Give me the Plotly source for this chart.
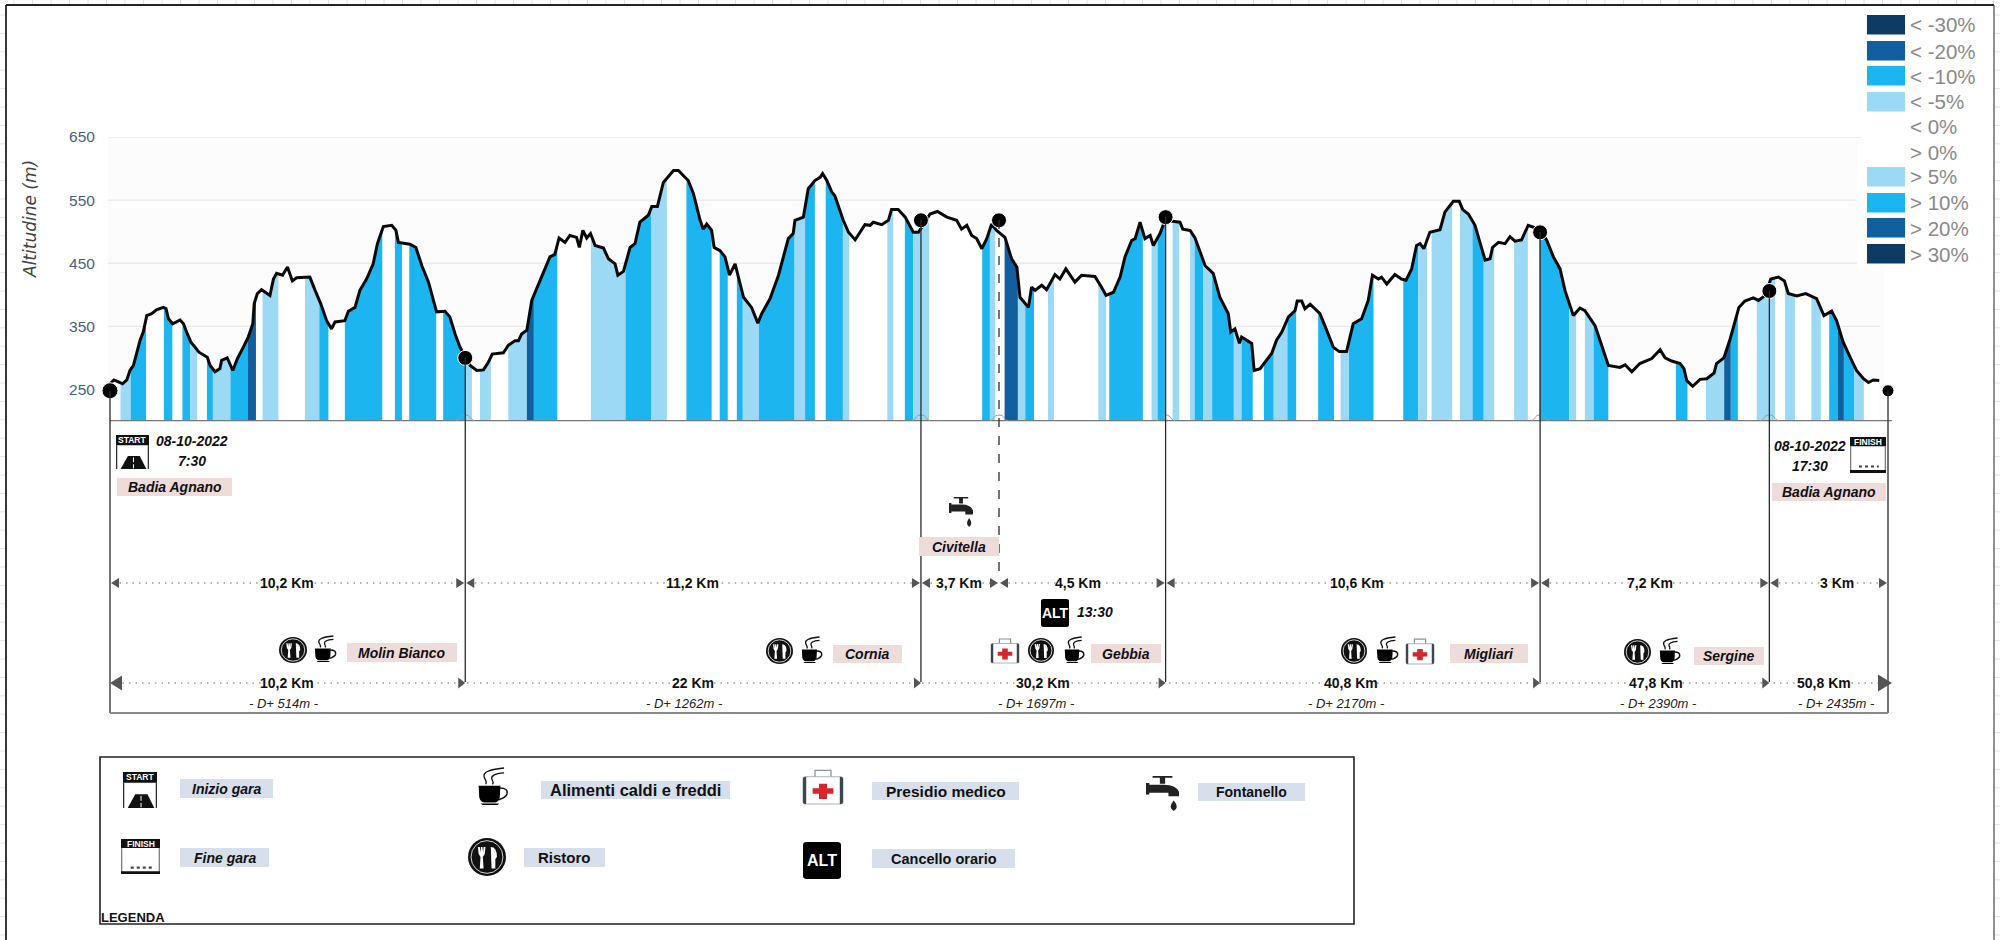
import re
import numpy as np
import plotly.graph_objects as go

W, H = 2000, 940

# ---------- data ----------
profile_km = [
 0.0,0.11,0.24,0.36,0.48,0.57,0.67,0.74,0.86,0.95,1.05,1.19,1.33,1.52,1.60,1.67,1.79,2.0,2.10,2.21,2.31,2.43,2.54,2.78,2.86,3.0,3.14,3.19,3.35,3.51,3.64,3.81,3.95,4.08,4.12,4.21,4.33,4.57,4.67,4.76,4.93,5.07,5.21,5.33,5.71,5.86,6.02,6.19,6.33,6.43,6.71,6.81,7.0,7.14,7.33,7.52,7.64,7.81,8.05,8.17,8.24,8.57,8.74,8.91,9.10,9.33,9.57,9.71,9.86,10.0,
 10.29,10.48,10.67,10.81,10.92,11.24,11.38,11.57,11.67,11.76,11.91,12.05,12.24,12.38,12.57,12.71,12.83,13.0,13.14,13.33,13.41,13.51,13.62,13.73,13.86,14.10,14.24,14.43,14.51,14.67,14.86,15.0,15.14,15.38,15.48,15.64,15.81,16.10,16.24,16.52,16.67,16.86,16.95,17.05,17.19,17.26,17.43,17.57,17.70,17.86,17.95,18.10,18.33,18.51,18.62,18.86,19.10,19.38,19.52,19.57,19.81,19.95,20.14,20.29,
 20.36,20.48,20.62,20.71,20.95,21.10,21.29,21.43,21.57,21.72,21.81,22.05,22.24,22.33,22.52,22.72,22.95,23.10,23.43,23.64,23.91,24.19,24.33,24.48,24.62,24.76,24.91,25.05,25.19,25.33,25.57,25.76,25.91,26.0,26.24,26.33,26.43,26.62,26.76,27.0,27.14,27.31,27.57,27.76,28.14,28.33,28.46,28.67,28.86,29.0,29.19,29.29,29.43,29.57,29.72,29.81,30.0,30.14,30.57,
 30.65,30.86,31.0,31.14,31.29,31.52,31.71,31.95,32.02,32.14,32.27,32.33,32.52,32.62,32.69,32.86,33.19,33.33,33.48,33.67,33.86,33.92,34.05,34.14,34.29,34.57,34.76,34.95,35.12,35.33,35.52,35.76,35.95,36.07,36.24,36.33,36.48,36.71,36.90,37.03,37.19,37.33,37.43,37.54,37.71,38.0,38.14,38.38,38.55,38.65,38.81,39.0,39.14,39.29,39.43,39.50,39.67,39.86,40.0,40.14,40.33,40.52,40.67,40.86,
 41.05,41.24,41.43,41.57,41.81,42.0,42.14,42.43,42.57,42.81,43.14,43.29,43.48,43.71,44.05,44.29,44.43,44.62,44.86,44.97,45.05,45.22,45.43,45.62,45.83,45.90,46.11,46.29,46.54,46.71,46.95,47.10,47.29,47.45,47.67,47.84,47.95,48.19,48.45,48.76,48.97,49.19,49.33,49.52,49.76,49.90,50.10,50.24,50.38,50.55]
profile_alt = [
 259,265,262,259,265,280,288,304,328,341,367,370,376,380,378,362,354,360,354,338,325,317,309,301,288,278,283,296,300,280,299,317,333,354,386,402,408,399,425,434,431,444,422,427,428,407,386,359,346,357,359,374,380,407,425,449,481,508,510,502,483,480,475,446,420,373,374,365,338,317,
 288,280,281,293,306,308,320,327,327,338,344,391,417,436,460,464,490,483,494,491,475,502,490,497,478,474,457,449,431,437,475,481,515,526,540,540,578,597,597,581,560,518,504,512,502,475,470,460,431,449,428,396,380,355,370,394,431,489,497,518,523,568,581,586,
 592,581,563,557,518,499,487,499,511,510,515,511,518,535,535,523,499,499,528,532,523,518,504,510,494,489,473,489,512,502,491,457,444,396,380,412,407,415,408,432,425,441,420,431,429,412,399,404,428,460,486,489,515,489,494,478,497,518,515,
 504,502,490,470,446,434,396,370,341,346,323,333,327,323,280,283,307,328,341,365,375,390,390,378,385,370,344,317,310,310,354,362,391,431,425,428,417,432,425,423,441,478,481,473,499,503,531,548,548,535,528,510,483,455,457,475,483,481,492,485,487,510,507,504,
 486,460,441,407,367,379,375,351,328,288,285,289,278,291,299,313,300,295,291,283,264,255,266,267,276,291,300,330,380,390,395,391,399,425,428,422,402,398,402,394,367,374,359,325,296,280,267,261,265,264]

band_start = [0.30,0.59,1.54,2.07,2.29,2.77,2.94,3.44,3.93,4.36,5.57,5.98,6.71,8.14,8.55,9.52,10.16,10.57,11.38,11.91,12.11,13.74,14.73,15.47,16.47,17.42,17.91,18.08,18.54,19.56,19.86,
 20.45,20.94,22.21,22.71,22.95,24.92,25.14,25.56,25.94,26.15,26.80,28.24,28.55,29.76,29.93,30.36,30.86,30.99,31.24,31.49,32.11,32.33,32.97,33.25,33.64,34.52,35.16,35.40,36.95,37.38,37.76,38.57,38.93,39.25,40.12,40.84,41.69,42.14,42.39,44.74,45.60,46.12,46.31,47.05,47.86,48.61,49.12,49.37,49.54,49.83]
band_end = [0.59,1.03,1.78,2.29,2.49,2.94,3.44,3.93,4.17,4.81,5.98,6.24,7.78,8.34,9.32,10.16,10.34,10.88,11.91,12.11,12.78,14.73,15.47,15.91,17.19,17.65,18.08,18.54,19.56,19.86,20.14,
 20.94,21.12,22.38,22.95,23.40,25.14,25.29,25.94,26.15,26.40,26.97,28.46,29.51,29.93,30.14,30.55,30.99,31.24,31.49,32.11,32.33,32.65,33.25,33.64,33.89,34.97,35.40,36.10,37.38,37.63,38.35,38.93,39.25,39.55,40.51,41.69,41.89,42.39,42.81,45.07,46.12,46.31,46.51,47.57,48.14,48.88,49.37,49.54,49.83,50.11]
band_class = ["5","10","10","10","5","10","5","10","20","5","5","10","10","10","10","10","5","5","5","20","10","5","10","5","10","10","10","5","10","5","10",
 "10","5","5","10","5","10","5","20","5","10","5","5","10","5","10","5","5","10","5","10","5","10","10","5","10","10","5","10","10","5","5","5","10","5","5","10","5","5","10","10","5","20","10","5","5","5","10","20","10","5"]
class_color = {"5": "#9BD9F4", "10": "#1DB5F0", "20": "#115F9E", "30": "#0E3B63"}

check_km = [0.0, 10.15, 23.17, 25.4, 30.16, 40.86, 47.41, 50.8]
check_alt = [248, 300, 518, 518, 523, 499, 406, 248]
check_size = [16, 15, 15, 15, 15, 15, 15, 12]

y_ticks = [250, 350, 450, 550, 650]
grid_vals = [650, 550, 450, 350]
grid_ends = [1861, 1857, 1857, 1880]

legend_labels = ["< -30%", "< -20%", "< -10%", "< -5%", "< 0%", "> 0%", "> 5%", "> 10%", "> 20%", "> 30%"]
legend_classes = ["30", "20", "10", "5", None, None, "5", "10", "20", "30"]

seg_labels = ["10,2 Km", "11,2 Km", "3,7 Km", "4,5 Km", "10,6 Km", "7,2 Km", "3 Km"]
cum_labels = ["10,2 Km", "22 Km", "30,2 Km", "40,8 Km", "47,8 Km", "50,8 Km"]
dplus_labels = ["- D+ 514m -", "- D+ 1262m -", "- D+ 1697m -", "- D+ 2170m -", "- D+ 2390m -", "- D+ 2435m -"]

# ---------- layout helpers ----------
PINK = "#EEDCDB"
BLUEBOX = "#D6DFEB"
NARROW = "Liberation Sans, Arial, sans-serif"
PX_PER_KM = 35.0
X0PX = 110.0

def fx(x): return x / W
def fy(y): return 1 - y / H
def km_px(k): return X0PX + k * PX_PER_KM
def alt_py(a): return 421 - (a - 200) * 0.632

shapes, annos = [], []

def rect(x0, y0, x1, y1, fill, line=None, lw=0, layer="above"):
    shapes.append(dict(type="rect", xref="paper", yref="paper", x0=fx(x0), x1=fx(x1), y0=fy(y1), y1=fy(y0),
                       fillcolor=fill, line=dict(color=line or "rgba(0,0,0,0)", width=lw), layer=layer))

def seg(x0, y0, x1, y1, color="#333", w=1.3, dash="solid", layer="above"):
    shapes.append(dict(type="line", xref="paper", yref="paper", x0=fx(x0), x1=fx(x1), y0=fy(y0), y1=fy(y1),
                       line=dict(color=color, width=w, dash=dash), layer=layer))

def text(x, y, s, size=14, color="#111", font=NARROW, anchor="center", angle=0):
    annos.append(dict(xref="paper", yref="paper", x=fx(x), y=fy(y), text=s, showarrow=False, xanchor=anchor,
                      yanchor="middle", textangle=angle, font=dict(size=size, color=color, family=font), borderpad=0))

def path_px(d, x0=0, y0=0, x1=1, y1=1, fill="#000", line=None, lw=0):
    toks = re.findall(r"[MLCQZ]|-?\d*\.?\d+", d)
    out, i = [], 0
    for t in toks:
        if t in "MLCQZ":
            out.append(t)
        else:
            v = float(t)
            if i % 2 == 0:
                out.append(f"{fx(x0 + v * (x1 - x0)):.5f}")
            else:
                out.append(f"{fy(y0 + v * (y1 - y0)):.5f}")
            i += 1
    shapes.append(dict(type="path", xref="paper", yref="paper", path=" ".join(out), fillcolor=fill,
                       line=dict(color=line or "rgba(0,0,0,0)", width=lw), layer="above"))

def ellipse(x0, y0, x1, y1, fill, line=None, lw=0):
    shapes.append(dict(type="circle", xref="paper", yref="paper", x0=fx(x0), x1=fx(x1), y0=fy(y1), y1=fy(y0),
                       fillcolor=fill, line=dict(color=line or "rgba(0,0,0,0)", width=lw), layer="above"))

NOFILL = "rgba(0,0,0,0)"

def coffee(x0, y0, x1, y1):
    b = (x0, y0, x1, y1)
    path_px("M .85 0 C .35 .05 .2 .12 .25 .25 C .27 .32 .35 .36 .3 .44", *b, fill=NOFILL, line="#111", lw=1.3)
    path_px("M .85 .13 C .55 .15 .45 .22 .48 .3 C .5 .36 .55 .38 .5 .44", *b, fill=NOFILL, line="#111", lw=1.3)
    path_px("M .08 .48 L .74 .48 L .72 .8 Q .68 .93 .58 .93 L .24 .93 Q .14 .93 .1 .8 Z", *b)
    path_px("M .72 .54 Q .98 .54 .94 .7 Q .9 .8 .68 .86", *b, fill=NOFILL, line="#111", lw=1.5)
    path_px("M .14 .96 L .7 .96 L .65 1 L .2 1 Z", *b)

def ristoro(x0, y0, x1, y1):
    b = (x0, y0, x1, y1)
    ellipse(x0, y0, x1, y1, "#111")
    ellipse(x0 + .08 * (x1 - x0), y0 + .07 * (y1 - y0), x1 - .08 * (x1 - x0), y1 - .07 * (y1 - y0), NOFILL, "#fff", 0.8)
    path_px("M .26 .24 L .28 .42 L .33 .5 L .31 .8 L .41 .8 L .39 .5 L .44 .42 L .46 .24 L .41 .24 L .40 .38 L .38 .24 L .34 .24 L .33 .38 L .31 .24 Z", *b, fill="#fff")
    path_px("M .6 .24 Q .76 .24 .76 .5 L .72 .55 L .72 .8 L .62 .8 Z", *b, fill="#fff")

def med(x0, y0, x1, y1):
    b = (x0, y0, x1, y1)
    path_px("M .3 .25 L .3 .04 L .7 .04 L .7 .25", *b, fill=NOFILL, line="#8a929a", lw=1.2)
    path_px("M .05 .22 L .95 .22 Q 1 .22 1 .27 L 1 .95 Q 1 1 .95 1 L .05 1 Q 0 1 0 .95 L 0 .27 Q 0 .22 .05 .22 Z", *b, fill="#fff", line="#9aa1a8", lw=0.8)
    path_px("M 0 .27 Q 0 .22 .08 .22 L .08 1 Q 0 1 0 .95 Z", *b, fill="#3d4650")
    path_px("M 1 .27 Q 1 .22 .92 .22 L .92 1 Q 1 1 1 .95 Z", *b, fill="#3d4650")
    path_px("M .4 .42 L .6 .42 L .6 .55 L .76 .55 L .76 .71 L .6 .71 L .6 .86 L .4 .86 L .4 .71 L .24 .71 L .24 .55 L .4 .55 Z", *b, fill="#D8252B")

def tap(x0, y0, x1, y1):
    b = (x0, y0, x1, y1)
    path_px("M .2 0 L .8 0 L .8 .05 L .58 .05 L .58 .22 L .42 .22 L .42 .05 L .2 .05 Z", *b, fill="#222")
    path_px("M 0 .2 L .1 .2 L .1 .25 L .55 .25 Q .9 .25 1 .45 L 1 .58 L .68 .58 L .68 .48 L .1 .48 L .1 .53 L 0 .53 Z", *b, fill="#222")
    path_px("M .84 .7 Q 1.02 .9 .84 1 Q .66 .9 .84 .7 Z", *b, fill="#222")

def alt_icon(x0, y0, x1, y1, size=14):
    b = (x0, y0, x1, y1)
    path_px("M .1 0 L .9 0 Q 1 0 1 .08 L 1 .92 Q 1 1 .9 1 L .1 1 Q 0 1 0 .92 L 0 .08 Q 0 0 .1 0 Z", *b, fill="#000")
    text((x0 + x1) / 2, (y0 + y1) / 2, "<b>ALT</b>", size=size, color="#fff")

def start_icon(x0, y0, x1, y1):
    b = (x0, y0, x1, y1)
    path_px("M 0 0 L 1 0 L 1 .3 L 0 .3 Z", *b, fill="#111")
    path_px("M .02 .3 L .02 1", *b, fill=NOFILL, line="#222", lw=1.2)
    path_px("M .98 .3 L .98 1", *b, fill=NOFILL, line="#222", lw=1.2)
    path_px("M .36 .62 L .72 .62 L .92 1 L .14 1 Z", *b, fill="#111")
    path_px("M .53 .66 L .53 .8 M .53 .86 L .53 .98", *b, fill=NOFILL, line="#fff", lw=1)
    text((x0 + x1) / 2, y0 + .15 * (y1 - y0), "<b>START</b>", size=8.5, color="#fff")

def finish_icon(x0, y0, x1, y1):
    b = (x0, y0, x1, y1)
    path_px("M 0 0 L 1 0 L 1 .26 L 0 .26 Z", *b, fill="#111")
    path_px("M .02 .26 L .02 .95", *b, fill=NOFILL, line="#555", lw=1)
    path_px("M .98 .26 L .98 .95", *b, fill=NOFILL, line="#555", lw=1)
    path_px("M .25 .82 L .8 .82", *b, fill=NOFILL, line="#444", lw=2.2)
    shapes[-1]["line"]["dash"] = "dot"
    path_px("M 0 .92 L 1 .92 L 1 1 L 0 1 Z", *b, fill="#111")
    text((x0 + x1) / 2, y0 + .13 * (y1 - y0), "<b>FINISH</b>", size=8.5, color="#fff")

def label_box(x0, y0, x1, y1, s, fill=PINK, size=14):
    rect(x0, y0, x1, y1, fill)
    text((x0 + x1) / 2, (y0 + y1) / 2, s, size=size)

def tri(xtip, y, direction, w=8, h=10, color="#555"):
    xb = xtip - direction * w
    path_px(f"M {xtip} {y} L {xb} {y - h / 2} L {xb} {y + h / 2} Z", fill=color)

DOTS = "1.5px,5px"

# ---------- page frame ----------
seg(6, 5, 1994, 5, "#222", 1.8)
seg(6, 5, 6, 940, "#222", 1.8)
seg(1994, 5, 1994, 940, "#555", 1.3)
tick_path = []
for tx in np.arange(14.0, 2000, 18.5):
    tick_path.append(f"M {fx(tx):.5f} {fy(0):.5f} L {fx(tx):.5f} {fy(4):.5f}")
for ty in np.arange(15.0, 940, 18.4):
    tick_path.append(f"M {fx(0):.5f} {fy(ty):.5f} L {fx(5):.5f} {fy(ty):.5f}")
    tick_path.append(f"M {fx(1995):.5f} {fy(ty):.5f} L {fx(2000):.5f} {fy(ty):.5f}")
shapes.append(dict(type="path", xref="paper", yref="paper", path=" ".join(tick_path), line=dict(color="#e2e2e2", width=1), layer="above"))

# ---------- plot background and gridlines ----------
rect(108, 137, 1884, 421, "#FCFCFC", layer="below")
rect(1857, 120, 1892, 270, "#FFFFFF", layer="below")
for g, e in zip(grid_vals, grid_ends):
    shapes.append(dict(type="line", xref="paper", yref="y", x0=fx(108), x1=fx(e), y0=g, y1=g,
                       line=dict(color="#E9E9E9", width=1.4), layer="below"))

# ---------- gradient legend ----------
leg_y = [25, 51, 76, 102, 127, 152, 177, 203, 228, 254]
for lab, cl, ly in zip(legend_labels, legend_classes, leg_y):
    if cl:
        rect(1867, ly - 10, 1905, ly + 9.5, class_color[cl])
    text(1909, ly, lab, size=20.5, color="#8a8a8a", font="Liberation Sans, Arial, sans-serif", anchor="left")

# ---------- y-axis title ----------
text(30, 219, "<i>Altitudine (m)</i>", size=17, color="#444", font="DejaVu Sans, sans-serif", angle=-90)

# ---------- baseline with arches ----------
seg(110, 420.7, 1892, 420.7, "#777", 1.2)
for k in check_km[1:7]:
    p = km_px(k)
    path_px(f"M {p - 9} 420.5 C {p - 5} 420.5 {p - 6} 415 {p} 415 C {p + 6} 415 {p + 5} 420.5 {p + 9} 420.5", fill=NOFILL, line="#999", lw=1)

# ---------- checkpoint verticals ----------
bottoms = [713, 682, 682, 580, 682, 682, 682, 713]
for k, a, b, d in zip(check_km, check_alt, bottoms, ["solid"] * 3 + ["dash"] + ["solid"] * 4):
    seg(km_px(k), alt_py(a), km_px(k), b, "#2b2b2b", 1.3, d)
seg(110, 713, 1888, 713, "#8a8a8a", 1.8)

# ---------- distance rows ----------
px_checks = [km_px(k) for k in check_km]
seg_centres = [287, 692, 959, 1078, 1357, 1650, 1837]
for i, (lab, cx) in enumerate(zip(seg_labels, seg_centres)):
    a, b = px_checks[i], px_checks[i + 1]
    seg(a + 3, 583, b - 3, 583, "#666", 1, DOTS)
    tri(a + 1, 583, -1)
    tri(b - 1, 583, 1)
    rect(cx - len(lab) * 3.6, 575, cx + len(lab) * 3.6, 591, "#fff")
    text(cx, 583, f"<b>{lab}</b>", size=14)

cum_stops = [px_checks[1], px_checks[2], px_checks[4], px_checks[5], px_checks[6], px_checks[7]]
cum_centres = [287, 693, 1043, 1351, 1656, 1824]
dplus_centres = [284, 684, 1036, 1346, 1658, 1836]
seg(116, 683, 1884, 683, "#666", 1, DOTS)
tri(110, 683, -1, 12, 15)
for s in cum_stops[:-1]:
    tri(s, 683, 1, 7, 11)
tri(1892, 683, 1, 14, 17)
for lab, cx in zip(cum_labels, cum_centres):
    rect(cx - len(lab) * 3.6, 675, cx + len(lab) * 3.6, 691, "#fff")
    text(cx, 683, f"<b>{lab}</b>", size=14)
for lab, cx in zip(dplus_labels, dplus_centres):
    text(cx, 703, f"<i>{lab}</i>", size=13, color="#222")

# ---------- place labels ----------
label_box(117, 478, 232, 496, "<b><i>Badia Agnano</i></b>")
label_box(919, 537, 999, 556, "<b><i>Civitella</i></b>")
label_box(347, 643, 457, 662, "<b><i>Molin Bianco</i></b>")
label_box(833, 645, 902, 663, "<b><i>Cornia</i></b>")
label_box(1091, 644, 1161, 663, "<b><i>Gebbia</i></b>")
label_box(1450, 644, 1528, 663, "<b><i>Migliari</i></b>")
label_box(1694, 647, 1764, 665, "<b><i>Sergine</i></b>")
label_box(1772, 483, 1886, 501, "<b><i>Badia Agnano</i></b>")

text(192, 441, "<b><i>08-10-2022</i></b>", size=14)
text(192, 461, "<b><i>7:30</i></b>", size=14)
text(1810, 446, "<b><i>08-10-2022</i></b>", size=14)
text(1810, 466, "<b><i>17:30</i></b>", size=14)
text(1095, 612, "<b><i>13:30</i></b>", size=14)

# ---------- icons along the course ----------
start_icon(116, 435, 149, 469)
finish_icon(1850, 437, 1886, 473)
tap(949, 497, 973, 527)
alt_icon(1041, 599, 1069, 627)
ristoro(279, 637, 307, 663); coffee(313, 636, 337, 662)
ristoro(766, 638, 793, 664); coffee(800, 637, 823, 663)
med(991, 638, 1019, 663); ristoro(1028, 638, 1054, 663); coffee(1063, 637, 1085, 663)
ristoro(1341, 638, 1367, 664); coffee(1375, 637, 1399, 663); med(1406, 638, 1434, 664)
ristoro(1624, 639, 1651, 665); coffee(1658, 638, 1681, 664)

# ---------- symbol key ----------
rect(100, 757, 1354, 924, "rgba(0,0,0,0)", "#222", 1.6)
start_icon(123, 772, 157, 808)
label_box(180, 779, 273, 798, "<b><i>Inizio gara</i></b>", BLUEBOX)
coffee(476, 768, 509, 805)
label_box(541, 781, 730, 799, "<b>Alimenti caldi e freddi</b>", BLUEBOX, 16.5)
med(803, 769, 843, 804)
label_box(872, 782, 1019, 800, "<b>Presidio medico</b>", BLUEBOX, 15.5)
tap(1146, 776, 1179, 811)
label_box(1198, 783, 1305, 801, "<b>Fontanello</b>", BLUEBOX)
finish_icon(121, 839, 160, 874)
label_box(180, 848, 269, 867, "<b><i>Fine gara</i></b>", BLUEBOX)
ristoro(468, 838, 506, 876)
label_box(524, 848, 605, 867, "<b>Ristoro</b>", BLUEBOX, 15)
alt_icon(803, 842, 841, 879, size=16)
label_box(872, 849, 1015, 868, "<b>Cancello orario</b>", BLUEBOX, 14.5)
text(100, 917, "<b>LEGENDA</b>", size=13, anchor="left")

# ---------- traces ----------
fig = go.Figure()
pk = np.array(profile_km, float)
pa = np.array(profile_alt, float)

fig.add_trace(go.Scatter(x=pk, y=pa, mode="none", fill="tozeroy", fillcolor="#FFFFFF", hoverinfo="skip", showlegend=False))
for s, e, c in zip(band_start, band_end, band_class):
    inner = pk[(pk > s) & (pk < e)]
    xs = np.concatenate([[s], inner, [e]])
    fig.add_trace(go.Scatter(x=xs, y=np.interp(xs, pk, pa), mode="none", fill="tozeroy",
                             fillcolor=class_color[c], hoverinfo="skip", showlegend=False))
fig.add_trace(go.Scatter(x=pk, y=pa, mode="lines", line=dict(color="#0a0a0a", width=3), name="Altitudine", showlegend=False))
fig.add_trace(go.Scatter(x=check_km, y=check_alt, mode="markers", cliponaxis=False,
                         marker=dict(color="#000", size=check_size, opacity=1), showlegend=False))

fig.update_layout(
    width=W, height=H, margin=dict(l=0, r=0, t=0, b=0), autosize=False,
    paper_bgcolor="#FFFFFF", plot_bgcolor="rgba(0,0,0,0)",
    shapes=shapes, annotations=annos, showlegend=False,
    xaxis=dict(domain=[108 / W, 1895 / W], range=[(108 - X0PX) / PX_PER_KM, (1895 - X0PX) / PX_PER_KM],
               visible=False, showgrid=False, zeroline=False, automargin=False),
    yaxis=dict(domain=[1 - 421 / H, 1 - 137 / H], range=[200, 650], tickmode="array", tickvals=y_ticks,
               showgrid=False, zeroline=False, showline=False, ticks="outside", ticklen=9, automargin=False,
               tickcolor="rgba(0,0,0,0)", tickfont=dict(size=15.5, color="#46627c", family="Liberation Sans, Arial, sans-serif")),
)

fig.write_html("out.html", config=dict(displayModeBar=False),
               post_script="document.body.style.margin='0';document.body.style.overflow='hidden';")
